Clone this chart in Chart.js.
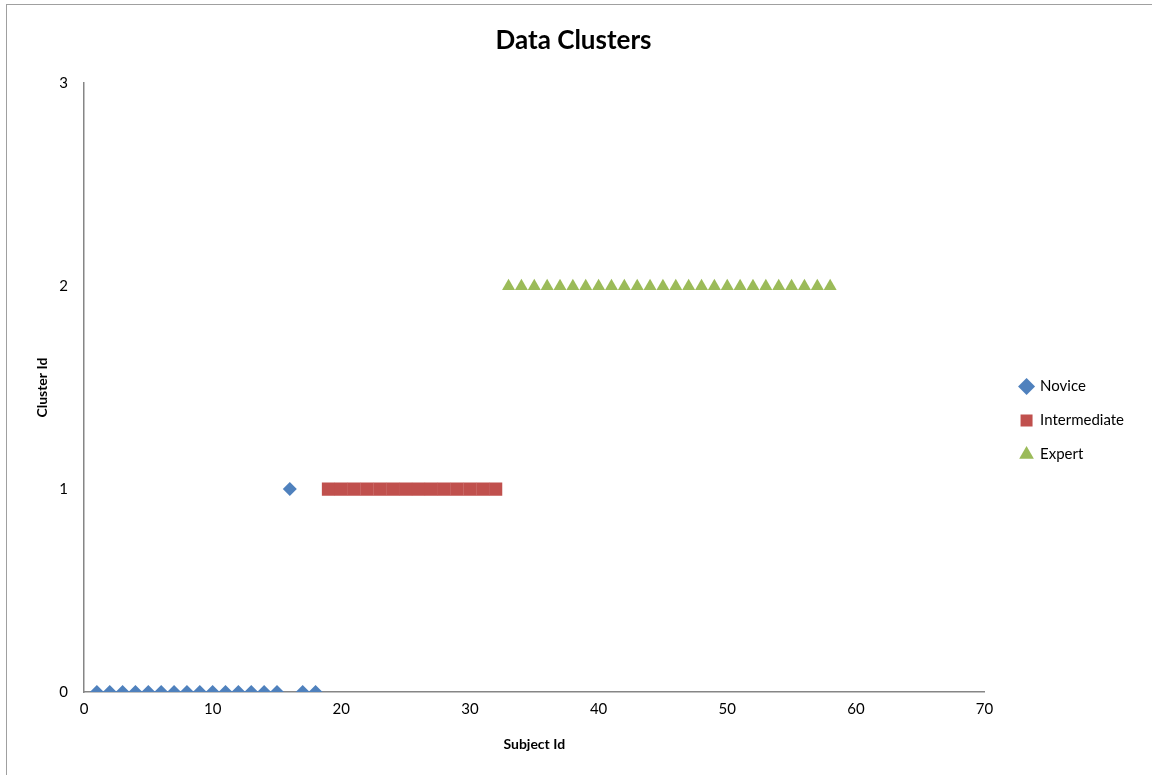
<!DOCTYPE html>
<html>
<head>
<meta charset="utf-8">
<script src="https://cdn.jsdelivr.net/npm/chart.js@4.4.1/dist/chart.umd.min.js"></script>
<style>
  html, body { margin: 0; padding: 0; background: #fff; }
  #wrap { position: relative; width: 1152px; height: 775px; overflow: hidden; }
  #frame { position: absolute; left: 6px; top: 4px; width: 1160px; height: 790px; border: 1px solid #a0a0a0; box-sizing: border-box; }
  #c { position: absolute; left: 0; top: 0; }
</style>
</head>
<body>
<div id="wrap">
  <div id="frame"></div>
  <canvas id="c" width="1152" height="775"></canvas>
</div>
<script>
// values
var noviceX = [1, 2, 3, 4, 5, 6, 7, 8, 9, 10, 11, 12, 13, 14, 15, 16, 17, 18];
var noviceY = [0, 0, 0, 0, 0, 0, 0, 0, 0, 0, 0, 0, 0, 0, 0, 1, 0, 0];
var interX = [19, 20, 21, 22, 23, 24, 25, 26, 27, 28, 29, 30, 31, 32];
var interY = [1, 1, 1, 1, 1, 1, 1, 1, 1, 1, 1, 1, 1, 1];
var expertX = [33, 34, 35, 36, 37, 38, 39, 40, 41, 42, 43, 44, 45, 46, 47, 48, 49, 50, 51, 52, 53, 54, 55, 56, 57, 58];
var expertY = [2, 2, 2, 2, 2, 2, 2, 2, 2, 2, 2, 2, 2, 2, 2, 2, 2, 2, 2, 2, 2, 2, 2, 2, 2, 2];
var xTicks = [0, 10, 20, 30, 40, 50, 60, 70];
var yTicks = [0, 1, 2, 3];

function pts(xs, ys) {
    return xs.map(function (x, i) { return { x: x, y: ys[i] }; });
}

var FONT = "Lato, 'Open Sans', sans-serif";
var axisGray = '#868686';

// push the legend a bit further from the plot, like the original
var legendShift = {
    id: 'legendShift',
    afterLayout: function (chart) {
        if (chart.legend) {
            chart.legend.left += 17;
            chart.legend.right += 17;
        }
    }
};

var ctx = document.getElementById('c').getContext('2d');
var chart = new Chart(ctx, {
    type: 'scatter',
    plugins: [legendShift],
    data: {
        datasets: [{
                label: 'Novice',
                data: pts(noviceX, noviceY),
                pointStyle: 'rectRot',
                pointRadius: 7,
                pointHoverRadius: 7,
                backgroundColor: '#4F81BD',
                borderColor: '#4F81BD',
                borderWidth: 0
            }, {
                label: 'Intermediate',
                data: pts(interX, interY),
                pointStyle: 'rect',
                pointRadius: 9.3,
                pointHoverRadius: 9.3,
                backgroundColor: '#C0504D',
                borderColor: '#C0504D',
                borderWidth: 0
            }, {
                label: 'Expert',
                data: pts(expertX, expertY),
                pointStyle: 'triangle',
                pointRadius: 7.5,
                pointHoverRadius: 7.5,
                backgroundColor: '#9BBB59',
                borderColor: '#9BBB59',
                borderWidth: 0
            }
        ]
    },
    options: {
        responsive: false,
        animation: false,
        layout: { padding: { left: 30, right: 35, top: 0, bottom: 14 } },
        plugins: {
            title: {
                display: true,
                text: 'Data Clusters',
                color: '#000',
                font: { family: FONT, size: 26, weight: 'bold' },
                padding: { top: 25, bottom: 27 }
            },
            legend: {
                position: 'right',
                title: {
                    display: true,
                    text: ' ',
                    font: { family: FONT, size: 10 },
                    padding: { top: 34, bottom: 34 }
                },
                labels: {
                    usePointStyle: true,
                    color: '#000',
                    font: { family: FONT, size: 15 },
                    boxWidth: 12,
                    boxHeight: 12,
                    padding: 19
                }
            },
            tooltip: { enabled: false }
        },
        scales: {
            x: {
                type: 'linear',
                min: 0,
                max: 70,
                afterBuildTicks: function (s) { s.ticks = xTicks.map(function (v) { return { value: v }; }); },
                afterFit: function (s) { s.height = 69; },
                grid: { display: false, drawTicks: false },
                border: { color: axisGray, width: 1.5 },
                ticks: { color: '#000', font: { family: FONT, size: 15 }, padding: 8 },
                title: {
                    display: true,
                    text: 'Subject Id',
                    color: '#000',
                    font: { family: FONT, size: 14, weight: 'bold' },
                    padding: { top: 2, bottom: 8 }
                }
            },
            y: {
                type: 'linear',
                min: 0,
                max: 3,
                afterBuildTicks: function (s) { s.ticks = yTicks.map(function (v) { return { value: v }; }); },
                afterFit: function (s) { s.width = 54; },
                grid: { display: false, drawTicks: false },
                border: { color: axisGray, width: 1.5 },
                ticks: { color: '#000', font: { family: FONT, size: 15 }, padding: 16 },
                title: {
                    display: true,
                    text: 'Cluster Id',
                    color: '#000',
                    font: { family: FONT, size: 14, weight: 'bold' },
                    padding: { bottom: 14 }
                }
            }
        }
    }
});
</script>
</body>
</html>
